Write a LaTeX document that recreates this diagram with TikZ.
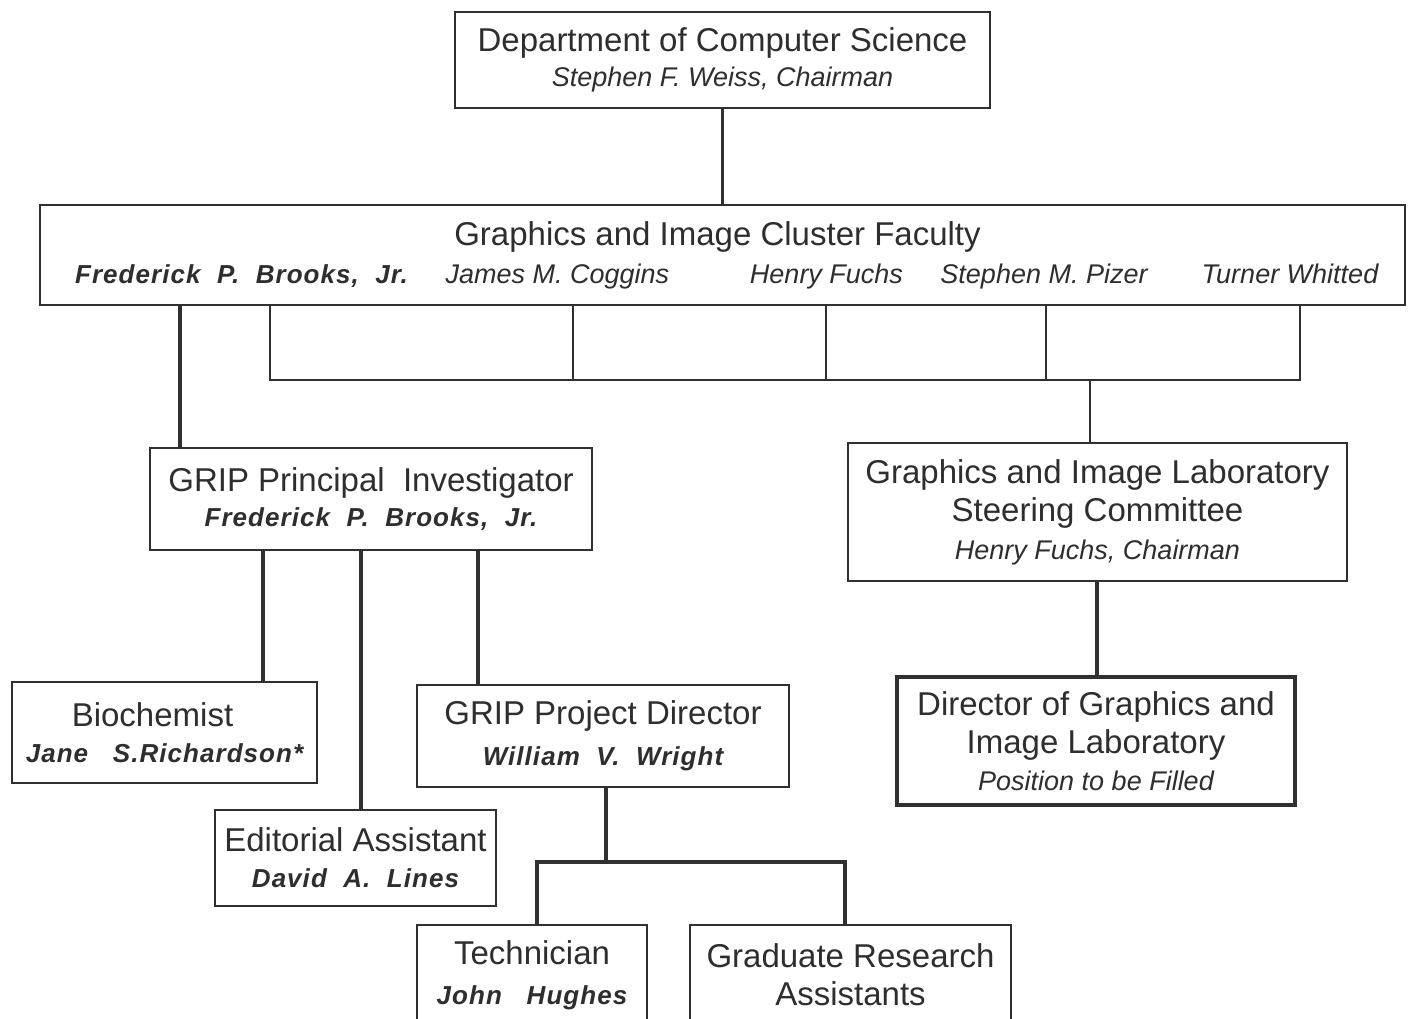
\documentclass[tikz,border=0pt]{standalone}
\usepackage{fontspec}
\setmainfont{Liberation Sans}
\newfontfamily\holderfont[LetterSpace=4]{Liberation Sans}
\usetikzlibrary{positioning}
\definecolor{InkGray}{HTML}{2E2E2E}
\definecolor{RuleGray}{HTML}{303030}
\newcommand{\chair}[1]{{\fontsize{27}{38}\selectfont\itshape #1}}
\newcommand{\holder}[1]{{\holderfont\fontsize{26}{38}\selectfont\bfseries\itshape #1}}

\begin{document}
\begin{tikzpicture}[x=1pt,y=-1pt,
  orgbox/.style={draw=RuleGray,line width=2.8pt,inner sep=0pt,align=center,text=InkGray,
    font=\fontsize{33}{38}\selectfont},
  facname/.style={anchor=base,inner sep=0pt,text=InkGray},
  busline/.style={draw=RuleGray,line width=1.9pt},
  stemline/.style={draw=RuleGray,line width=3.2pt}]
  \clip (0,0) rectangle (1408,1019);
  \fill[white] (0,0) rectangle (1408,1019);

  % top of the tree
  \node[orgbox,minimum width=535,minimum height=96] (dept) at (722.5,60)
    {Department of Computer Science\\[-3pt]\chair{Stephen F. Weiss, Chairman}};
  \node[orgbox,minimum width=1365,minimum height=100] (cluster) at (722.5,255) {};
  \node[facname,font=\fontsize{33}{38}\selectfont] (clustertitle) at (717.5,245)
    {Graphics and Image Cluster Faculty};
  \node[facname] (brooks) at (241.5,283) {\holder{Frederick\ \ P.\ \ Brooks,\ \ Jr.}};
  \node[facname] (coggins) at (557.5,283) {\chair{James M. Coggins}};
  \node[facname] (fuchs) at (826.5,283) {\chair{Henry Fuchs}};
  \node[facname] (pizer) at (1044,283) {\chair{Stephen M. Pizer}};
  \node[facname] (whitted) at (1290,283) {\chair{Turner Whitted}};

  % second and third levels
  \node[orgbox,minimum width=442,minimum height=102] (grippi) at (371,499)
    {GRIP Principal\ \ Investigator\\[-3pt]\holder{Frederick\ \ P.\ \ Brooks,\ \ Jr.}};
  \node[orgbox,minimum width=499,minimum height=138] (steering) at (1097.5,512)
    {Graphics and Image Laboratory\\Steering Committee\\\chair{Henry Fuchs, Chairman}};
  \node[orgbox,line width=4.2pt,minimum width=398,minimum height=128] (director) at (1096,741)
    {Director of Graphics and\\Image Laboratory\\[-1pt]\chair{Position to be Filled}};
  \node[orgbox,minimum width=305,minimum height=101] (biochem) at (164.5,732.5)
    {Biochemist\hspace*{24pt}\\[-2pt]\holder{Jane\ \ \ S.Richardson*}};
  \node[orgbox,minimum width=281,minimum height=96] (editorial) at (355.5,858)
    {Editorial Assistant\\[-2pt]\holder{David\ \ A.\ \ Lines}};
  \node[orgbox,minimum width=372,minimum height=102] (projdir) at (603,736)
    {GRIP Project Director\\[3pt]\holder{William\ \ V.\ \ Wright}};
  \node[orgbox,minimum width=230,minimum height=100] (technician) at (532,975)
    {Technician\\[2pt]\holder{John\ \ \ Hughes}};
  \node[orgbox,minimum width=321,minimum height=100] (gra) at (850.5,975)
    {Graduate Research\\Assistants};

  % connectors
  \coordinate (facbus) at (1090,380);
  \coordinate (staffbus) at (606,862);
  \draw[busline,line width=2.5pt] (dept) -- (cluster);
  \draw[busline] (270,0 |- cluster.south) |- (facbus) -| (1300,0 |- cluster.south);
  \foreach \x in {573,826,1046}
    \draw[busline] (\x,0 |- cluster.south) -- (\x,0 |- facbus);
  \draw[busline] (facbus) -- (facbus |- steering.north);
  \draw[stemline] (180,0 |- cluster.south) -- (180,0 |- grippi.north);
  \draw[stemline] (263,0 |- grippi.south) -- (263,0 |- biochem.north);
  \draw[stemline] (361,0 |- grippi.south) -- (361,0 |- editorial.north);
  \draw[stemline] (478,0 |- grippi.south) -- (478,0 |- projdir.north);
  \draw[stemline] (1097,0 |- steering.south) -- (1097,0 |- director.north);
  \draw[stemline] (staffbus |- projdir.south) -- (staffbus);
  \draw[stemline] (537,0 |- technician.north) |- (staffbus) -| (845,0 |- gra.north);
\end{tikzpicture}
\end{document}
